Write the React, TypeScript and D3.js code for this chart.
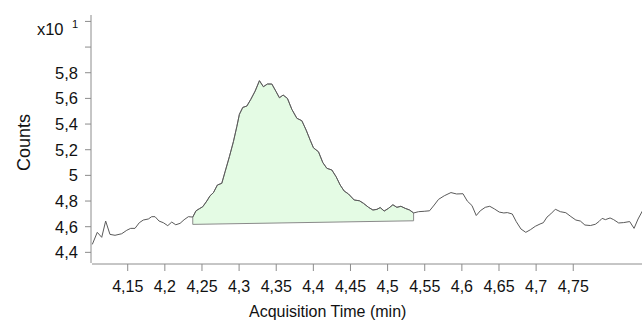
import * as d3 from 'd3';

// acquisition time (min) and counts (x10^1)
const times = [
  4.1023, 4.109, 4.115, 4.1203, 4.1261, 4.1329, 4.1419, 4.1487, 4.154, 4.1598,
  4.1656, 4.171, 4.1778, 4.1823, 4.1868, 4.1922, 4.198, 4.2039, 4.2093, 4.2147,
  4.2205, 4.2259, 4.2317, 4.2376, 4.242, 4.2465, 4.2511, 4.2565, 4.2609, 4.2654,
  4.2708, 4.2767, 4.2811, 4.2869, 4.2923, 4.2969, 4.3004, 4.305, 4.3104, 4.3158,
  4.3216, 4.3274, 4.3327, 4.3381, 4.3441, 4.3499, 4.3543, 4.3593, 4.3651, 4.371,
  4.3778, 4.3845, 4.3903, 4.3957, 4.4001, 4.4069, 4.4128, 4.4182, 4.4249, 4.4307,
  4.4361, 4.4415, 4.4473, 4.455, 4.4621, 4.4675, 4.4743, 4.4802, 4.4856, 4.49,
  4.4954, 4.5012, 4.5071, 4.5125, 4.5179, 4.5237, 4.5296, 4.535, 4.5417, 4.5493,
  4.5565, 4.5628, 4.5686, 4.5763, 4.5853, 4.5929, 4.6015, 4.6073, 4.6136, 4.6194,
  4.6248, 4.6315, 4.6376, 4.6437, 4.6504, 4.6565, 4.6612, 4.6679, 4.6733, 4.6796,
  4.6861, 4.6922, 4.6989, 4.7053, 4.7097, 4.7147, 4.7198, 4.7259, 4.7326, 4.74,
  4.7468, 4.7535, 4.7596, 4.7657, 4.7731, 4.7798, 4.7846, 4.7889, 4.7933, 4.7996,
  4.8044, 4.8112, 4.8179, 4.826, 4.8319, 4.8373, 4.8431,
];
const counts = [
  4.462, 4.556, 4.517, 4.644, 4.54, 4.533, 4.545, 4.572, 4.587, 4.587,
  4.631, 4.652, 4.66, 4.678, 4.678, 4.644, 4.631, 4.608, 4.636, 4.615,
  4.626, 4.654, 4.678, 4.675, 4.724, 4.74, 4.756, 4.8, 4.841, 4.865,
  4.925, 4.938, 5.028, 5.145, 5.262, 5.379, 5.476, 5.53, 5.54, 5.593,
  5.657, 5.738, 5.691, 5.712, 5.712, 5.652, 5.605, 5.626, 5.6, 5.515,
  5.445, 5.426, 5.353, 5.275, 5.215, 5.184, 5.099, 5.055, 5.042, 4.989,
  4.925, 4.878, 4.855, 4.808, 4.802, 4.782, 4.751, 4.73, 4.735, 4.749,
  4.722, 4.743, 4.771, 4.751, 4.759, 4.743, 4.73, 4.707, 4.717, 4.72,
  4.724, 4.769, 4.813, 4.841, 4.866, 4.855, 4.857, 4.8, 4.765, 4.687,
  4.724, 4.751, 4.759, 4.739, 4.714, 4.707, 4.71, 4.699, 4.639, 4.582,
  4.556, 4.576, 4.603, 4.621, 4.631, 4.675, 4.7, 4.736, 4.717, 4.709,
  4.679, 4.652, 4.644, 4.613, 4.609, 4.619, 4.64, 4.665, 4.655, 4.668,
  4.655, 4.629, 4.632, 4.64, 4.587, 4.66, 4.722,
];

// integrated peak: start/end time and baseline values
const peakTimes = [4.2376, 4.535];
const baseline = [4.618, 4.646];

const xTicks = [4.15, 4.2, 4.25, 4.3, 4.35, 4.4, 4.45, 4.5, 4.55, 4.6, 4.65, 4.7, 4.75];
const yTicks = [4.4, 4.6, 4.8, 5, 5.2, 5.4, 5.6, 5.8, 6.0, 6.2];
const yLabeled = [4.4, 4.6, 4.8, 5, 5.2, 5.4, 5.6, 5.8];

const fmt = (d: number) => String(d).replace('.', ',');

export default function App() {
  const width = 642;
  const height = 321;
  const axisX = 91;
  const axisY = 264;

  const x = d3.scaleLinear().domain([4.1019, 4.8426]).range([92, 642]);
  const y = d3.scaleLinear().domain([4.317, 6.25]).range([263, 15]);

  const pts: [number, number][] = times.map((t, i) => [t, counts[i]]);

  const line = d3.line<[number, number]>()
    .x(d => x(d[0]))
    .y(d => y(d[1]));

  const inPeak = pts.filter(d => d[0] >= peakTimes[0] - 1e-6 && d[0] <= peakTimes[1] + 1e-6);
  const peakPoly: [number, number][] = [
    ...inPeak,
    [peakTimes[1], baseline[1]],
    [peakTimes[0], baseline[0]],
  ];

  const font = "'Liberation Sans', Arial, sans-serif";

  return (
    <svg
      width={width}
      height={height}
      style={{ position: 'absolute', left: 0, top: 0, background: '#fff' }}
      fontFamily={font}
    >
      {/* integrated peak */}
      <path
        d={line(peakPoly) + 'Z'}
        fill="#e4fbe4"
        stroke="#8a8a8a"
        strokeWidth={1}
      />

      {/* trace */}
      <path d={line(pts) ?? ''} fill="none" stroke="#5a5a5a" strokeWidth={1} />

      {/* y axis */}
      <line x1={axisX} x2={axisX} y1={15} y2={263} stroke="#8c8c8c" />
      {yTicks.map(t => (
        <line key={t} x1={axisX - 6} x2={axisX} y1={y(t)} y2={y(t)} stroke="#8c8c8c" />
      ))}
      {yLabeled.map(t => (
        <text key={t} x={78} y={y(t)} dy="0.36em" textAnchor="end" fontSize={16.5} fill="#111">
          {fmt(t)}
        </text>
      ))}
      <text x={63.5} y={35} textAnchor="end" fontSize={16.5} fill="#111">x10</text>
      <text x={72} y={28} fontSize={11} fill="#111">1</text>

      {/* x axis */}
      <line x1={92} x2={642} y1={axisY} y2={axisY} stroke="#8c8c8c" />
      {xTicks.map(t => (
        <g key={t} transform={`translate(${x(t)},0)`}>
          <line y1={axisY} y2={axisY + 7} stroke="#8c8c8c" />
          <text y={291.5} textAnchor="middle" fontSize={16} fill="#111">
            {fmt(t)}
          </text>
        </g>
      ))}

      <text x={327.7} y={316.5} textAnchor="middle" fontSize={16} fill="#111">
        Acquisition Time (min)
      </text>
      <text
        transform="translate(30,142.5) rotate(-90)"
        textAnchor="middle"
        fontSize={18}
        fill="#111"
      >
        Counts
      </text>
    </svg>
  );
}
